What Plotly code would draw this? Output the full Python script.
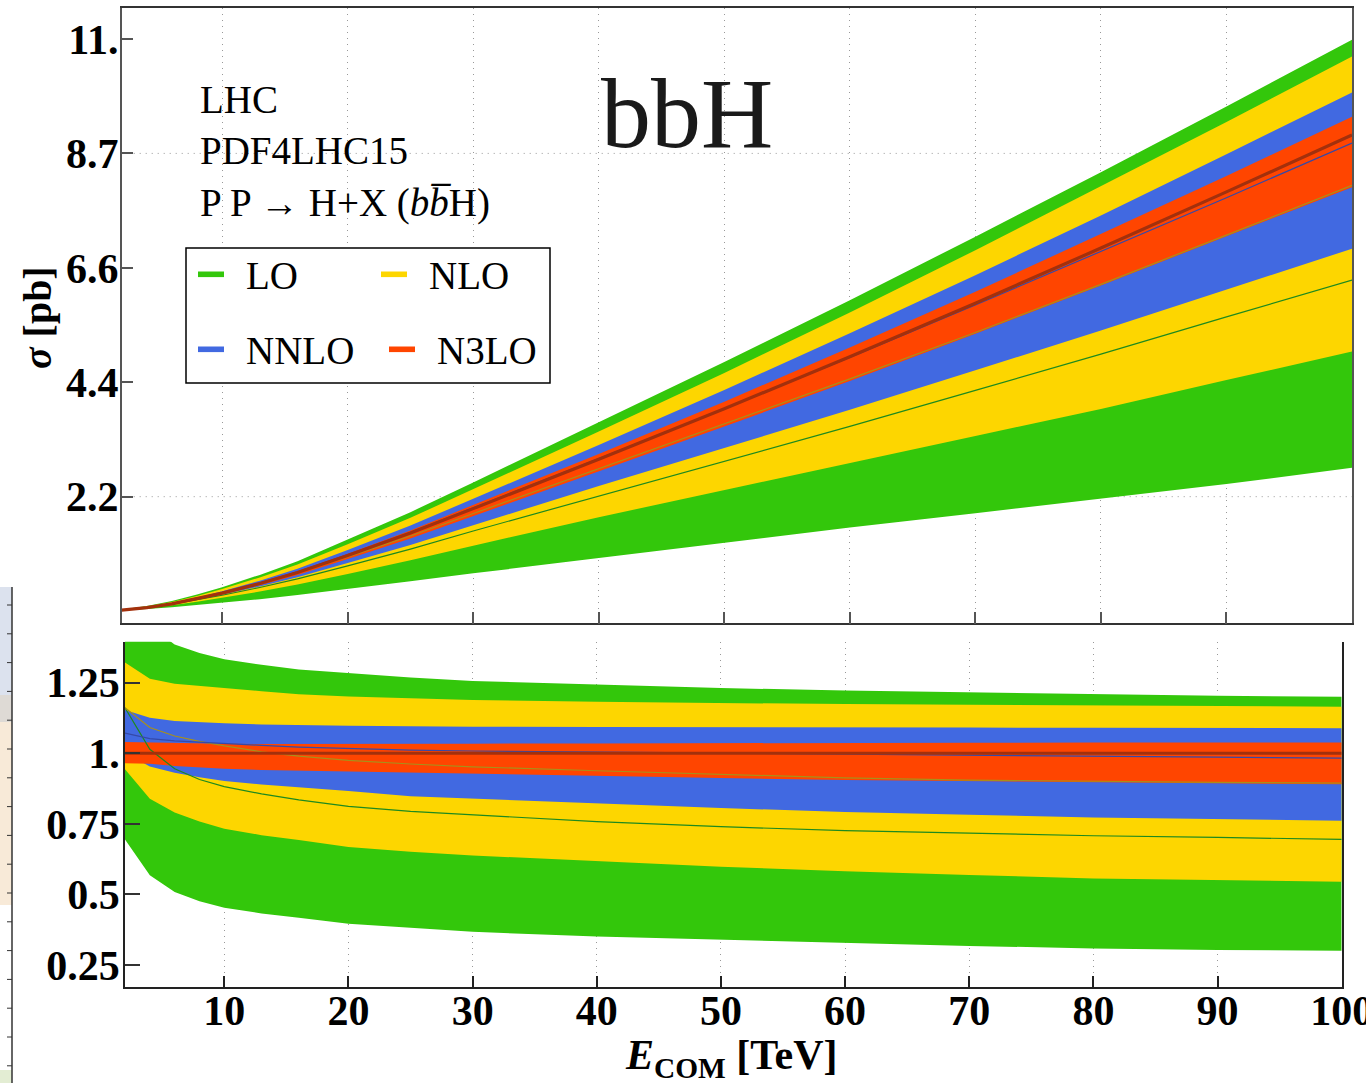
import plotly.graph_objects as go

W, H = 1366, 1083

# ---------------- data ----------------
E_COM = [2, 4, 6, 8, 10, 13, 16, 20, 25, 30, 40, 50, 60, 70, 80, 90, 100]

# N3LO central cross section [pb]
sigma_n3lo = [0.018, 0.068, 0.14, 0.235, 0.345, 0.53, 0.74, 1.07, 1.50, 1.97,
              2.92, 3.89, 4.89, 5.92, 6.98, 8.06, 9.155]

# ratios to N3LO central value
lo_up = [1.60, 1.45, 1.385, 1.355, 1.333, 1.313, 1.297, 1.283, 1.268, 1.256,
         1.243, 1.231, 1.222, 1.216, 1.209, 1.204, 1.200]
lo_dn = [0.695, 0.568, 0.509, 0.476, 0.453, 0.433, 0.418, 0.396, 0.382, 0.368,
         0.351, 0.339, 0.329, 0.318, 0.309, 0.303, 0.301]
lo_c = [1.161, 1.014, 0.945, 0.907, 0.882, 0.856, 0.835, 0.812, 0.794, 0.782,
        0.758, 0.740, 0.726, 0.717, 0.708, 0.702, 0.695]

nlo_up = [1.321, 1.264, 1.246, 1.238, 1.232, 1.220, 1.209, 1.201, 1.195, 1.189,
          1.182, 1.177, 1.174, 1.172, 1.170, 1.167, 1.165]
nlo_dn = [0.943, 0.839, 0.790, 0.758, 0.733, 0.710, 0.693, 0.668, 0.651, 0.638,
          0.618, 0.598, 0.582, 0.569, 0.557, 0.551, 0.545]
nlo_c = [1.161, 1.091, 1.061, 1.042, 1.026, 1.005, 0.990, 0.975, 0.962, 0.952,
         0.938, 0.926, 0.913, 0.905, 0.900, 0.897, 0.894]

nnlo_up = [1.153, 1.126, 1.114, 1.109, 1.106, 1.102, 1.099, 1.097, 1.096, 1.094,
           1.093, 1.093, 1.092, 1.091, 1.090, 1.090, 1.089]
nnlo_dn = [1.002, 0.953, 0.931, 0.915, 0.902, 0.889, 0.878, 0.866, 0.848, 0.838,
           0.823, 0.806, 0.792, 0.782, 0.773, 0.767, 0.761]
nnlo_c = [1.071, 1.052, 1.044, 1.039, 1.035, 1.028, 1.022, 1.016, 1.011, 1.008,
          1.004, 1.000, 0.997, 0.994, 0.990, 0.986, 0.983]

n3lo_up = [1.040, 1.038, 1.036, 1.035, 1.034, 1.033, 1.033, 1.032, 1.033, 1.034,
           1.035, 1.035, 1.036, 1.037, 1.038, 1.038, 1.038]
n3lo_dn = [0.965, 0.963, 0.955, 0.950, 0.945, 0.941, 0.938, 0.935, 0.930, 0.927,
           0.920, 0.912, 0.905, 0.901, 0.897, 0.894, 0.890]
n3lo_c = [1.0] * len(E_COM)

orders = ["LO", "NLO", "NNLO", "N3LO"]
band_colors = ["#33C70B", "#FDD600", "#4169E1", "#FF4500"]
line_colors = ["#1E8A1E", "#A8901A", "#3549A8", "#A3300C"]
line_widths = [1.2, 1.2, 1.2, 3.2]

top_y_ticks = [2.2, 4.4, 6.6, 8.8, 11.0]
top_y_text = ["2.2", "4.4", "6.6", "8.7", "11."]
bot_y_ticks = [0.25, 0.5, 0.75, 1.0, 1.25]
bot_y_text = ["0.25", "0.5", "0.75", "1.", "1.25"]
x_ticks = [10, 20, 30, 40, 50, 60, 70, 80, 90, 100]

# ---------------- figure ----------------
def px(x):
    return x / W


def py(y):
    return 1 - y / H


fig = go.Figure()

bands = [(lo_up, lo_dn), (nlo_up, nlo_dn), (nnlo_up, nnlo_dn), (n3lo_up, n3lo_dn)]
centers = [lo_c, nlo_c, nnlo_c, n3lo_c]

for panel in ("top", "bot"):
    xa, ya = ("x", "y") if panel == "top" else ("x2", "y2")
    for (up, dn), col, name in zip(bands, band_colors, orders):
        if panel == "top":
            u = [r * s for r, s in zip(up, sigma_n3lo)]
            d = [r * s for r, s in zip(dn, sigma_n3lo)]
        else:
            u, d = up, dn
        fig.add_trace(go.Scatter(
            x=E_COM + E_COM[::-1], y=u + d[::-1], fill="toself",
            fillcolor=col, line=dict(width=0), mode="lines",
            hoverinfo="skip", showlegend=False, xaxis=xa, yaxis=ya, name=name))
    for c, col, lw, name in zip(centers, line_colors, line_widths, orders):
        if panel == "top":
            yy = [r * s for r, s in zip(c, sigma_n3lo)]
        else:
            yy = c
        fig.add_trace(go.Scatter(
            x=E_COM, y=yy, mode="lines", line=dict(color=col, width=lw),
            showlegend=False, xaxis=xa, yaxis=ya, name=name + " central"))

serif = "Liberation Serif"
tickfont = dict(family=serif, size=42, color="black", weight="bold")
GRID_DASH = "1px,5px"
GRID_COL = "#999999"

fig.update_layout(
    width=W, height=H, margin=dict(l=0, r=0, t=0, b=0, autoexpand=False),
    paper_bgcolor="white", plot_bgcolor="white", showlegend=False,
    xaxis=dict(domain=[px(121.7), px(1352)], anchor="y", range=[2, 100],
               tickvals=x_ticks[:-1], showticklabels=False, automargin=False,
               ticks="inside", ticklen=12, tickwidth=1.5, tickcolor="#555",
               showline=True, mirror=True, linecolor="#333", linewidth=1.5,
               showgrid=True, gridcolor=GRID_COL, griddash=GRID_DASH, gridwidth=1,
               zeroline=False),
    yaxis=dict(domain=[py(623.3), py(8.3)], anchor="x", range=[-0.235, 11.59],
               tickvals=top_y_ticks, ticktext=top_y_text, tickfont=tickfont,
               automargin=False,
               ticks="inside", ticklen=12, tickwidth=1.5, tickcolor="#555",
               showline=True, mirror=True, linecolor="#555", linewidth=1.5,
               showgrid=False, zeroline=False, ticklabelstandoff=-7),
    xaxis2=dict(domain=[px(125), px(1341.7)], anchor="y2", range=[2, 100],
                tickvals=x_ticks, tickfont=tickfont, ticklabeloverflow="allow",
                automargin=False,
                ticks="inside", ticklen=11, tickwidth=1.5, tickcolor="#222",
                showline=True, mirror=False, linecolor="#222", linewidth=1.5,
                showgrid=True, gridcolor=GRID_COL, griddash=GRID_DASH, gridwidth=1,
                zeroline=False, ticklabelstandoff=-14),
    yaxis2=dict(domain=[py(986.7), py(641.7)], anchor="x2", range=[0.1735, 1.395],
                tickvals=bot_y_ticks, ticktext=bot_y_text, tickfont=tickfont,
                automargin=False,
                ticks="inside", ticklen=15, tickwidth=1.5, tickcolor="#333",
                showline=True, mirror=True, linecolor="#222", linewidth=1.5,
                showgrid=False, zeroline=False, ticklabelstandoff=-5),
)

shapes = []
# horizontal dotted grid lines in top panel
for gy in (2.2, 8.8):
    shapes.append(dict(type="line", xref="x", yref="y", x0=2, x1=100, y0=gy, y1=gy,
                       line=dict(color=GRID_COL, width=1, dash=GRID_DASH), layer="below"))
# legend box
shapes.append(dict(type="rect", xref="paper", yref="paper",
                   x0=px(186), x1=px(550), y0=py(383), y1=py(248),
                   line=dict(color="black", width=1.5), fillcolor="white", layer="above"))
# legend swatches
sw = [(198, 224, 274.3, band_colors[0]), (381, 407, 274.3, band_colors[1]),
      (198, 224, 349.3, band_colors[2]), (389, 415, 349.3, band_colors[3])]
for x0, x1, yc, col in sw:
    shapes.append(dict(type="rect", xref="paper", yref="paper",
                       x0=px(x0), x1=px(x1), y0=py(yc + 2.8), y1=py(yc - 2.8),
                       line=dict(width=0), fillcolor=col, layer="above"))

# fragment of a neighbouring figure visible at the left edge
for y0, y1, col in [(587, 695, "#DCE2EE"), (695, 722, "#DEDAD5"),
                    (722, 905, "#F8EAD8"), (1070, 1083, "#E3EDD3")]:
    shapes.append(dict(type="rect", xref="paper", yref="paper",
                       x0=0, x1=px(12), y0=py(y1), y1=py(y0),
                       line=dict(width=0), fillcolor=col, layer="below"))
shapes.append(dict(type="line", xref="paper", yref="paper", x0=px(12), x1=px(12),
                   y0=0, y1=py(587), line=dict(color="#333", width=1.5)))
for k in range(17):
    yt = 605 + 28.8 * k
    shapes.append(dict(type="line", xref="paper", yref="paper", x0=px(7), x1=px(12),
                       y0=py(yt), y1=py(yt), line=dict(color="#333", width=1)))
fig.update_layout(shapes=shapes)

ann = []


def text(x, y, s, size=39, xanchor="left", yanchor="middle", color="black", angle=0):
    ann.append(dict(x=px(x), y=py(y), xref="paper", yref="paper", text=s,
                    showarrow=False, xanchor=xanchor, yanchor=yanchor,
                    textangle=angle,
                    font=dict(family=serif, size=size, color=color)))


text(198, 99, "LHC")
text(198, 150, "PDF4LHC15")
text(198, 203, "P P \u2192 H+X (<i>b</i><i>b\u0305</i>H)")
text(599, 113, "bbH", size=100, color="#1a1a1a")
text(244, 275, "LO")
text(427, 275, "NLO")
text(244, 350, "NNLO")
text(435, 350, "N3LO")
text(37, 318, "<b><i>\u03c3</i> [pb]</b>", size=40, xanchor="center", angle=-90)
text(731, 1058, "<b><i>E</i><sub>COM</sub> [TeV]</b>", size=42, xanchor="center")
fig.update_layout(annotations=ann)

fig.write_html("out.html")
